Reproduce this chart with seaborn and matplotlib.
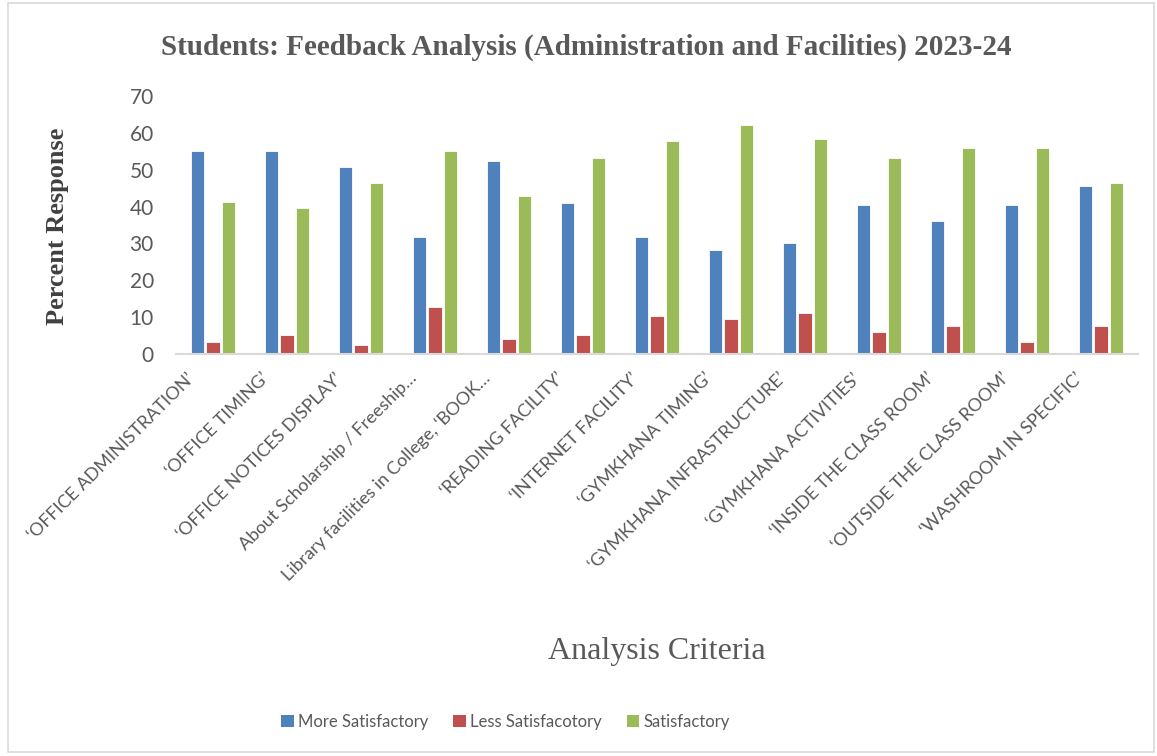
import pandas as pd
import matplotlib.pyplot as plt
import matplotlib.transforms as mtransforms
from matplotlib.patches import Rectangle, Patch
import seaborn as sns

# Values (percent response)
criteria = [
    '\u2018OFFICE ADMINISTRATION\u2019',
    '\u2018OFFICE TIMING\u2019',
    '\u2018OFFICE NOTICES DISPLAY\u2019',
    'About Scholarship / Freeship\u2026',
    'Library facilities in College, \u2018BOOK\u2026',
    '\u2018READING FACILITY\u2019',
    '\u2018INTERNET FACILITY\u2019',
    '\u2018GYMKHANA TIMING\u2019',
    '\u2018GYMKHANA INFRASTRUCTURE\u2019',
    '\u2018GYMKHANA ACTIVITIES\u2019',
    '\u2018INSIDE THE CLASS ROOM\u2019',
    '\u2018OUTSIDE THE CLASS ROOM\u2019',
    '\u2018WASHROOM IN SPECIFIC\u2019',
]
more_satisfactory = [55.2, 55.2, 50.7, 31.8, 52.5, 40.9, 31.8, 28.3, 30.1, 40.4, 36.0, 40.4, 45.6]
less_satisfactory = [3.3, 5.1, 2.4, 12.7, 4.2, 5.1, 10.2, 9.4, 11.1, 5.9, 7.7, 3.3, 7.7]
satisfactory = [41.2, 39.5, 46.5, 55.2, 42.9, 53.3, 57.7, 62.0, 58.4, 53.3, 55.9, 55.9, 46.5]
series_names = ['More Satisfactory', 'Less Satisfacotory', 'Satisfactory']
colors = ['#4F81BD', '#C0504D', '#9BBB59']

# long-form table for seaborn
df = pd.DataFrame({
    'Criteria': criteria * 3,
    'Series': [s for s in series_names for _ in criteria],
    'Value': more_satisfactory + less_satisfactory + satisfactory,
})

sns.set_style('white')
plt.rcParams['font.family'] = ['Lato', 'DejaVu Sans']

fig = plt.figure(figsize=(11.57, 7.56), dpi=100)
ax = fig.add_axes([176 / 1157, 1 - 354 / 756, 962 / 1157, 258 / 756])

sns.barplot(data=df, x='Criteria', y='Value', hue='Series', order=criteria,
            hue_order=series_names, palette=colors, width=0.64, gap=0.16,
            saturation=1, edgecolor='white', linewidth=0.6, ax=ax, legend=False)

ax.set_ylim(0, 70)
ax.set_xlim(-0.5, len(criteria) - 0.5)
ax.set_yticks(range(0, 71, 10))
ax.tick_params(axis='y', length=0, labelsize=15, labelcolor='#595959', pad=16)
ax.tick_params(axis='x', length=0, labelsize=13, labelcolor='#595959', pad=2)
for sp in ['left', 'right', 'top']:
    ax.spines[sp].set_visible(False)
ax.spines['bottom'].set_color('#D9D9D9')
ax.spines['bottom'].set_linewidth(1.5)

ax.set_xticks(range(len(criteria)))
ax.set_xticklabels(criteria, rotation=45, ha='right', va='center', rotation_mode='anchor')
offset = mtransforms.ScaledTranslation(-0.21, -0.19, fig.dpi_scale_trans)
for lbl in ax.get_xticklabels():
    lbl.set_transform(lbl.get_transform() + offset)

ax.set_xlabel('')
ax.set_ylabel('')

fig.text(0.507, 0.938, 'Students: Feedback Analysis (Administration and Facilities) 2023-24',
         ha='center', va='center', fontsize=21, fontweight='bold',
         family='Liberation Serif', color='#595959')
fig.text(0.050, 0.70, 'Percent Response', rotation=90, ha='center', va='center',
         fontsize=19, fontweight='bold', family='Liberation Serif', color='#404040')
fig.text(0.568, 0.138, 'Analysis Criteria', ha='center', va='center',
         fontsize=23, family='Liberation Serif', color='#595959')

handles = [Patch(facecolor=c, edgecolor='none') for c in colors]
fig.legend(handles, series_names, loc='center', bbox_to_anchor=(0.437, 0.045),
           ncol=3, frameon=False, fontsize=12, handlelength=0.75, handleheight=0.75,
           handletextpad=0.25, columnspacing=1.5, labelcolor='#595959')

# light chart border
fig.patches.append(Rectangle((8 / 1157, 4 / 756), 1 - 11 / 1157, 1 - 7 / 756,
                             transform=fig.transFigure, fill=False,
                             edgecolor='#D9D9D9', linewidth=1.2))

fig.savefig('out.png', dpi=100)
